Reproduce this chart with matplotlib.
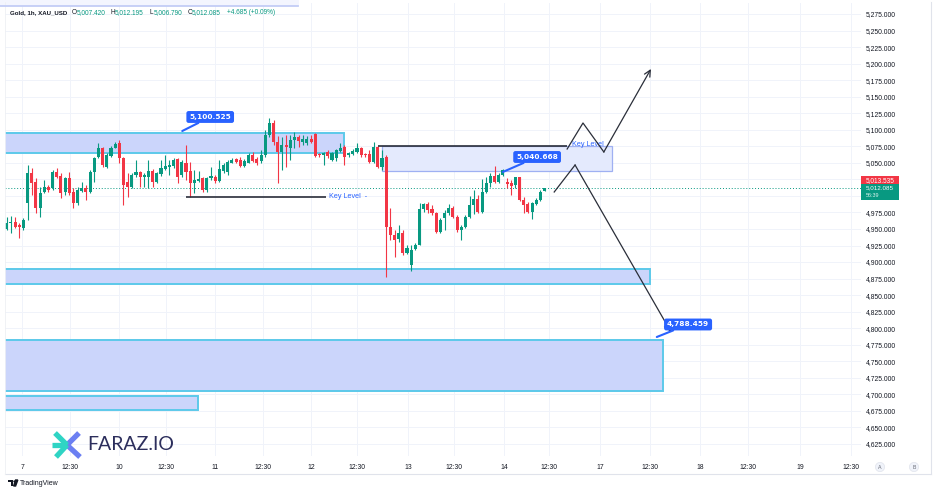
import matplotlib
matplotlib.use("Agg")
import matplotlib.pyplot as plt
from matplotlib.patches import Rectangle, Circle
import numpy as np

# ---------------- data ----------------
opens = [4949.5, 4958.5, 4960.1, 4956.0, 4951.0, 4988.8, 5034.1, 5021.5, 4981.2, 5006.4,
         5014.0, 5011.5, 5036.7, 5030.1, 5006.4, 5026.6, 5006.4, 4988.8, 5007.9, 5011.5,
         5006.4, 5036.7, 5059.3, 5072.9, 5044.2, 5060.3, 5072.9, 5079.5, 5056.8, 5021.5,
         5014.0, 5031.6, 5036.7, 5029.1, 5029.1, 5037.7, 5021.5, 5032.6, 5040.2, 5044.2,
         5045.2, 5055.3, 5031.6, 5049.3, 5037.7, 5019.0, 5023.1, 5026.6, 5008.9, 5026.6,
         5029.1, 5023.1, 5038.2, 5036.7, 5050.3, 5055.3, 5054.3, 5045.2, 5050.3, 5061.9,
         5055.3, 5053.3, 5061.9, 5092.1, 5109.7, 5082.0, 5066.8, 5076.9, 5072.0, 5085.0,
         5089.5, 5082.0, 5080.4, 5085.5, 5093.6, 5062.8, 5061.3, 5066.8, 5054.2, 5056.8,
         5068.4, 5074.4, 5061.8, 5063.3, 5066.8, 5071.9, 5063.3, 5063.3, 5051.7, 5074.4,
         5044.2, 5059.3, 4953.4, 4940.8, 4934.3, 4943.4, 4913.1, 4896.0, 4919.2, 4925.7,
         4979.6, 4987.7, 4979.6, 4974.6, 4945.9, 4966.0, 4973.6, 4982.2, 4968.6, 4948.4,
         4953.4, 4967.6, 4986.2, 4995.3, 4976.1, 5006.4, 5020.0, 5030.0, 5021.5, 5031.6,
         5021.5, 5020.0, 5016.4, 5028.0, 4993.8, 4987.7, 4976.1, 4987.7, 4993.8, 5007.42]
highs = [4968.6, 4969.6, 4968.6, 4958.5, 4966.1, 5046.7, 5041.7, 5026.6, 5014.0, 5024.1,
         5016.5, 5039.2, 5041.7, 5034.1, 5029.1, 5036.7, 5011.5, 5014.0, 5021.5, 5016.5,
         5039.2, 5059.3, 5079.5, 5074.5, 5064.4, 5075.5, 5082.0, 5084.5, 5059.3, 5034.1,
         5034.1, 5054.3, 5037.7, 5034.1, 5054.3, 5040.2, 5036.7, 5054.3, 5061.9, 5054.3,
         5056.8, 5056.8, 5054.3, 5077.0, 5051.8, 5039.2, 5038.2, 5029.1, 5029.1, 5044.2,
         5031.6, 5054.3, 5049.3, 5054.3, 5056.8, 5057.8, 5059.3, 5055.3, 5065.4, 5066.9,
         5059.3, 5069.4, 5099.7, 5117.3, 5114.8, 5090.5, 5089.5, 5092.0, 5092.0, 5097.1,
         5092.0, 5092.0, 5090.5, 5092.0, 5094.6, 5065.3, 5066.8, 5069.4, 5066.8, 5070.4,
         5079.4, 5076.9, 5066.8, 5070.4, 5079.4, 5074.4, 5065.3, 5069.4, 5082.0, 5075.5,
         5069.4, 5061.8, 4981.2, 4948.4, 4956.0, 4948.4, 4925.7, 4925.7, 4928.2, 4988.7,
         4989.7, 4991.2, 4986.2, 4976.1, 4966.0, 4978.6, 4987.7, 4984.7, 4971.1, 4956.0,
         4971.1, 4999.8, 5008.9, 5001.3, 5025.0, 5028.0, 5034.1, 5045.2, 5034.1, 5040.668,
         5026.5, 5024.0, 5029.0, 5029.0, 4998.8, 4991.2, 4991.2, 4996.3, 5008.9, 5012.195]
lows = [4948.5, 4944.4, 4951.0, 4935.9, 4948.5, 4963.6, 5001.4, 4973.7, 4968.6, 5003.9,
        5006.4, 5008.9, 5026.6, 4996.3, 5001.4, 5001.4, 4981.2, 4986.3, 5006.4, 4993.8,
        5003.9, 5021.5, 5056.8, 5044.2, 5041.7, 5059.3, 5071.9, 5049.3, 4986.3, 4998.9,
        5011.5, 5029.1, 5014.0, 5014.0, 5011.5, 5014.0, 5019.0, 5030.1, 5039.2, 5031.6,
        5041.7, 5020.0, 5029.1, 5024.1, 4998.4, 5003.9, 5021.5, 5006.4, 5006.4, 5024.1,
        5020.0, 5021.0, 5034.1, 5031.6, 5049.3, 5049.3, 5044.2, 5043.2, 5049.3, 5051.8,
        5046.7, 5050.3, 5059.3, 5089.6, 5077.0, 5019.0, 5039.1, 5044.2, 5054.2, 5071.9,
        5074.4, 5076.9, 5076.9, 5079.4, 5059.3, 5059.3, 5046.7, 5056.8, 5053.2, 5053.2,
        5066.8, 5046.7, 5058.3, 5061.8, 5065.3, 5059.3, 5059.3, 5049.2, 5050.2, 5041.6,
        5039.1, 4877.8, 4933.3, 4908.1, 4930.8, 4910.6, 4912.1, 4886.9, 4918.2, 4925.7,
        4976.1, 4973.6, 4971.1, 4943.4, 4943.4, 4948.4, 4971.1, 4966.0, 4945.9, 4933.3,
        4950.9, 4966.0, 4972.6, 4973.6, 4974.6, 5003.8, 5013.9, 5019.0, 5020.0, 5030.0,
        5011.4, 5001.3, 5011.4, 4992.8, 4973.6, 4974.6, 4964.5, 4986.2, 4992.8, 5006.79]
closes = [4958.5, 4961.1, 4953.5, 4952.5, 4963.6, 5034.1, 5019.0, 4981.2, 5003.9, 5014.0,
          5008.9, 5036.7, 5029.1, 5003.9, 5026.6, 5003.9, 4988.8, 5008.9, 5011.5, 5005.4,
          5036.7, 5056.8, 5072.9, 5046.7, 5061.9, 5072.9, 5078.0, 5056.8, 5016.5, 5014.0,
          5031.6, 5036.7, 5029.1, 5031.6, 5038.2, 5021.5, 5034.1, 5041.7, 5045.2, 5046.7,
          5054.3, 5029.1, 5051.8, 5036.7, 5019.0, 5024.1, 5025.6, 5008.9, 5026.6, 5030.1,
          5023.1, 5040.2, 5046.7, 5051.8, 5054.3, 5051.8, 5045.2, 5052.8, 5061.9, 5053.3,
          5049.3, 5061.9, 5092.1, 5110.7, 5082.0, 5066.8, 5076.9, 5074.4, 5085.0, 5089.5,
          5083.5, 5085.5, 5085.5, 5082.0, 5060.3, 5061.3, 5064.3, 5060.3, 5064.3, 5069.4,
          5071.9, 5059.3, 5064.3, 5068.4, 5071.9, 5061.8, 5061.8, 5051.7, 5074.4, 5044.2,
          5056.8, 4953.4, 4940.8, 4933.3, 4943.4, 4913.1, 4920.7, 4918.0, 4925.7, 4980.2,
          4987.7, 4978.6, 4973.6, 4945.9, 4963.5, 4974.6, 4982.2, 4968.6, 4948.4, 4953.4,
          4968.6, 4986.2, 4995.3, 4976.1, 5006.4, 5019.0, 5030.0, 5021.5, 5031.6, 5039.5,
          5018.0, 5014.9, 5028.0, 4993.8, 4986.2, 4976.1, 4989.7, 4993.8, 5006.4, 5012.085]

tick_pos = [3.7, 15.2, 26.9, 38.2, 50.0, 61.5, 73.0, 84.0, 96.2, 107.3, 119.3, 130.0,
            142.3, 154.3, 166.3, 177.8, 190.3, 202.5]
tick_labels = ["7", "12:30", "10", "12:30", "11", "12:30", "12", "12:30", "13", "12:30",
               "14", "12:30", "17", "12:30", "18", "12:30", "19", "12:30"]
price_ticks = list(range(4625, 5276, 25))
hidden_price_ticks = [5000, 5025]   # covered by the live price labels

# zones: [x_start, x_end, low, high]
zone_x0 = [-3, 90.0, -3, -3, -3]
zone_x1 = [80.9, 145.2, 154.3, 157.4, 45.9]
zone_lo = [5064.9, 5037.7, 4866.8, 4705.1, 4676.4]
zone_hi = [5095.1, 5075.5, 4889.5, 4782.2, 4697.5]

key_left = (43.0, 76.6, 4998.4)      # x0, x1, price
key_right = (89.0, 134.4, 5075.5)

up_path_x = [134.4, 138.2, 143.2, 154.5]
up_path_y = [5070.9, 5110.2, 5066.4, 5191.9]
down_path_x = [131.3, 136.3, 159.3]
down_path_y = [5005.9, 5046.7, 4794.3]

callout_text = ["5,100.525", "5,040.668", "4,788.459"]
callout_tip = [(42.1, 5098.1), (119.0, 5036.2), (155.9, 4786.7)]
callout_box = [(48.8, 5119.3), (127.2, 5058.8), (163.4, 4805.6)]

last_price = 5012.085
prev_price = 5013.535

# ---------------- figure ----------------
W, H = 936, 492
fig = plt.figure(figsize=(W / 100, H / 100), dpi=100)
fig.patch.set_facecolor("white")

AX_L, AX_R, AX_T, AX_B = 5, 861, 3, 456
ax = fig.add_axes([AX_L / W, 1 - AX_B / H, (AX_R - AX_L) / W, (AX_B - AX_T) / H])
ax.set_facecolor("white")
ax.set_xlim(-0.41, 204.87)
ax.set_ylim(4606.8, 5291.6)
for s in ax.spines.values():
    s.set_visible(False)

FONT = "Liberation Sans"
TXT = "#131722"
GREEN = "#089981"
RED = "#f23645"
BLUE = "#2962ff"
LINE = "#2a2e39"

ax.set_xticks(tick_pos)
ax.set_xticklabels(tick_labels, fontfamily=FONT, fontsize=4.9, color=TXT)
ax.set_yticks(price_ticks)
ax.set_yticklabels(["" if v in hidden_price_ticks else f"{v:,.3f}" for v in price_ticks],
                   fontfamily=FONT, fontsize=4.9, color=TXT)
ax.yaxis.tick_right()
ax.tick_params(axis="x", length=0, pad=6)
ax.tick_params(axis="y", length=0, pad=3.6)
ax.grid(True, color="#f0f3fa", lw=0.7, zorder=0)
ax.set_axisbelow(True)

# zones
for i in range(len(zone_x0)):
    if i == 1:
        fc, ec, lw = "#e4eafd", "#9fb0f2", 0.9
    else:
        fc, ec, lw = "#cbd5fb", "#5cc9ea", 1.4
    ax.add_patch(Rectangle((zone_x0[i], zone_lo[i]), zone_x1[i] - zone_x0[i],
                           zone_hi[i] - zone_lo[i], fc=fc, ec=ec, lw=lw, zorder=1))

# candles
x = np.arange(len(opens))
o = np.array(opens); h = np.array(highs); l = np.array(lows); c = np.array(closes)
cols = np.where(c >= o, GREEN, RED)
ax.vlines(x, l, h, colors=cols, lw=0.8, zorder=3)
body_lo = np.minimum(o, c)
body_h = np.maximum(np.abs(c - o), 0.6)
ax.bar(x, body_h, bottom=body_lo, width=0.74, color=cols, zorder=4, linewidth=0)

# current price dotted line
ax.axhline(last_price, color=GREEN, lw=0.7, ls=(0, (1, 2)), zorder=2)

# key levels
ax.hlines(key_left[2], key_left[0], key_left[1], color=LINE, lw=1.2, zorder=5)
ax.text(key_left[1] + 0.8, key_left[2], "Key Level  -", color=BLUE, fontsize=5.2,
        fontfamily=FONT, va="center", ha="left", zorder=6)
ax.hlines(key_right[2], key_right[0], key_right[1], color=LINE, lw=1.2, zorder=5)
ax.text(135.6, 5077.0, "Key Level", color=BLUE, fontsize=5.2, fontfamily=FONT,
        va="center", ha="left", zorder=6)

# projection paths
ax.plot(up_path_x[:-1], up_path_y[:-1], color=LINE, lw=0.9, zorder=6)
ax.annotate("", xy=(up_path_x[-1], up_path_y[-1]), xytext=(up_path_x[-2], up_path_y[-2]),
            arrowprops=dict(arrowstyle="->,head_length=0.45,head_width=0.22", color=LINE,
                            lw=0.9, shrinkA=0, shrinkB=0), zorder=6)
ax.plot(down_path_x[:-1], down_path_y[:-1], color=LINE, lw=0.9, zorder=6)
ax.annotate("", xy=(down_path_x[-1], down_path_y[-1]), xytext=(down_path_x[-2], down_path_y[-2]),
            arrowprops=dict(arrowstyle="->,head_length=0.45,head_width=0.22", color=LINE,
                            lw=0.9, shrinkA=0, shrinkB=0), zorder=6)

# callouts
for t, tip, box in zip(callout_text, callout_tip, callout_box):
    ax.annotate(t, xy=tip, xytext=box, ha="center", va="center", color="white",
                fontsize=5.3, fontweight="bold", fontfamily="DejaVu Sans",
                bbox=dict(boxstyle="round,pad=0.4,rounding_size=0.3", fc=BLUE, ec="none"),
                arrowprops=dict(arrowstyle="-", color=BLUE, lw=1.5, shrinkA=0, shrinkB=0),
                zorder=8)

# ---------------- overlay in pixel coordinates ----------------
ov = fig.add_axes([0, 0, 1, 1], zorder=10)
ov.set_xlim(0, W)
ov.set_ylim(H, 0)
ov.axis("off")
ov.patch.set_visible(False)

# frame
ov.plot([931, 931], [2, 474], color="#e0e3eb", lw=0.8)
ov.plot([5, 931], [474, 474], color="#e0e3eb", lw=0.8)
ov.plot([5, 5], [2, 474], color="#eef0f4", lw=0.6)

# top partial box
ov.add_patch(Rectangle((0, -2), 299, 8, fc="#f3f5fe", ec="none"))
ov.plot([0, 298], [6, 6], color="#c3cdf6", lw=1.3)

# header
hy = 12.5
ov.text(10, hy, "Gold, 1h, XAU_USD", fontsize=4.4, fontfamily=FONT, color=TXT,
        fontweight="bold", va="center")
for lab, xl, val, xv in [("O", 72, "5,007.420", 77), ("H", 110.5, "5,012.195", 115),
                         ("L", 150, "5,006.790", 154), ("C", 188, "5,012.085", 192)]:
    ov.text(xl, hy, lab, fontsize=4.7, fontfamily=FONT, color=TXT, va="center")
    ov.text(xv, hy, val, fontsize=4.7, fontfamily=FONT, color=GREEN, va="center")
ov.text(227, hy, "+4.685 (+0.09%)", fontsize=4.7, fontfamily=FONT, color=GREEN, va="center")

# price labels on the axis
ov.add_patch(Rectangle((861, 176), 38, 8, fc=RED, ec="none"))
ov.text(865.5, 180.2, f"{prev_price:,.3f}", fontsize=4.7, fontfamily=FONT, color="white",
        va="center")
ov.add_patch(Rectangle((861, 184), 38, 15.5, fc=GREEN, ec="none"))
ov.text(865.5, 187.9, f"{last_price:,.3f}", fontsize=4.5, fontfamily=FONT, color="white",
        va="center")
ov.text(865.5, 195.6, "56:39", fontsize=3.9, fontfamily=FONT, color="#d9f2ec", va="center")

# A / B buttons
for cx, t in [(880, "A"), (914, "B")]:
    ov.add_patch(Circle((cx, 467), 4.6, fc="#f0f3fa", ec="#e0e3eb", lw=0.5))
    ov.text(cx, 467.3, t, fontsize=3.8, fontfamily=FONT, color="#6a6d78", ha="center",
            va="center")

# TradingView logo
ov.add_patch(Rectangle((8, 480), 5, 1.8, fc=TXT, ec="none"))
ov.add_patch(Rectangle((10.6, 480), 1.9, 6, fc=TXT, ec="none"))
ov.add_patch(Circle((14.3, 481.4), 1.0, fc=TXT, ec="none"))
ov.fill([15.6, 17.8, 15.6, 13.6], [480, 480, 486, 486], color=TXT)
ov.text(20, 483.2, "TradingView", fontsize=5.0, fontfamily=FONT, color=TXT, va="center")

# FARAZ.IO logo
cx, cy = 67, 445
teal, purple = "#2fd4c4", "#6b7ff2"
for (x0, y0) in [(79, 433), (80, 457)]:
    ov.plot([x0, cx], [y0, cy], color=purple, lw=3.8, solid_capstyle="butt")
for (x0, y0) in [(55, 433), (52, 445), (56, 457)]:
    ov.plot([x0, cx], [y0, cy], color=teal, lw=3.8, solid_capstyle="butt")
ov.text(87, 445, "FARAZ.IO", fontsize=14, fontfamily="Lato", color="#2c2e5c", va="center",
        ha="left")

fig.savefig("out.png", dpi=100)
